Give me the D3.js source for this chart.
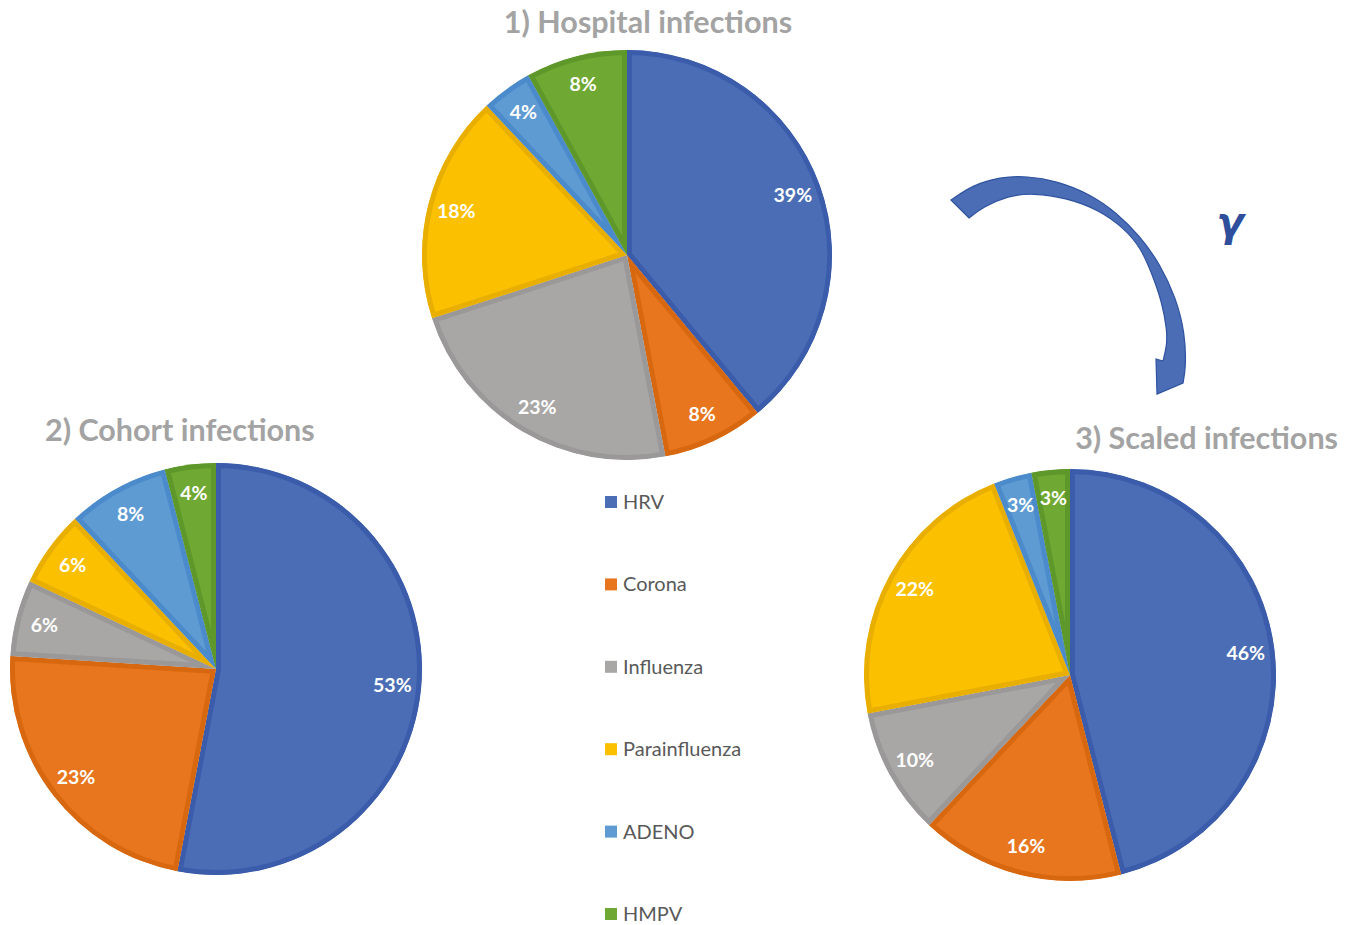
<!DOCTYPE html>
<html><head><meta charset="utf-8">
<script src="https://cdn.jsdelivr.net/npm/d3@7"></script>
<style>body{margin:0;background:#fff}</style></head>
<body>
<svg id="c" width="1354" height="925"></svg>
<script>
const categories = ["HRV","Corona","Influenza","Parainfluenza","ADENO","HMPV"];
const hospital = [39, 8, 23, 18, 4, 8];
const cohort   = [53, 23, 6, 6, 8, 4];
const scaled   = [46, 16, 10, 22, 3, 3];
const titles = ["1) Hospital infections", "2) Cohort infections", "3) Scaled infections"];
const fills   = ["#4a6db5", "#e8761e", "#a9a7a6", "#fbc000", "#5e9bd3", "#6fa832"];
const strokes = ["#3a5cab", "#d8680f", "#9a9898", "#e8ae00", "#4c8bcb", "#5e972a"];

const svg = d3.select("#c");
const pies = [
  {values: hospital, cx: 627, cy: 255, r: 205, title: titles[0], tx: 648, ty: 33, anchor: "middle"},
  {values: cohort,   cx: 216, cy: 669, r: 206, title: titles[1], tx: 45,  ty: 441, anchor: "start"},
  {values: scaled,   cx: 1070, cy: 675, r: 206, title: titles[2], tx: 1338, ty: 449, anchor: "end"}
];
const pieGen = d3.pie().sort(null).value(d => d);
const defs = svg.append("defs");

pies.forEach((p, pi) => {
  const arc = d3.arc().innerRadius(0).outerRadius(p.r);
  const labelArc = d3.arc().innerRadius(p.r * 0.86).outerRadius(p.r * 0.86);
  const arcs = pieGen(p.values);
  arcs.forEach((a, i) => {
    const id = `clip${pi}_${i}`;
    defs.append("clipPath").attr("id", id).append("path").attr("d", arc(a))
      .attr("transform", `translate(${p.cx},${p.cy})`);
    const sg = svg.append("g").attr("clip-path", `url(#${id})`)
      .append("g").attr("transform", `translate(${p.cx},${p.cy})`);
    sg.append("path").attr("d", arc(a)).attr("fill", fills[i])
      .attr("stroke", strokes[i]).attr("stroke-width", 10).attr("stroke-linejoin", "round");
  });
  const lg = svg.append("g").attr("transform", `translate(${p.cx},${p.cy})`);
  arcs.forEach((a, i) => {
    const [x, y] = labelArc.centroid(a);
    lg.append("text").attr("x", x).attr("y", y).attr("dy", "0.35em")
      .attr("text-anchor", "middle").attr("fill", "#fff")
      .attr("font-family", "Lato, 'Open Sans', sans-serif").attr("font-weight", "bold")
      .attr("font-size", 19.5).text(a.data + "%");
  });
  svg.append("text").attr("x", p.tx).attr("y", p.ty).attr("text-anchor", p.anchor)
    .attr("fill", "#a3a3a3").attr("font-family", "Lato, 'Open Sans', sans-serif")
    .attr("font-weight", "bold").attr("font-size", 30.5).text(p.title);
});

// legend
const legend = svg.append("g").attr("transform", "translate(605,502)");
categories.forEach((c, i) => {
  const row = legend.append("g").attr("transform", `translate(0,${i * 82.4})`);
  row.append("rect").attr("x", 0).attr("y", -6).attr("width", 12).attr("height", 12).attr("fill", fills[i]);
  row.append("text").attr("x", 18).attr("y", 0).attr("dy", "0.35em")
    .attr("fill", "#595959").attr("font-family", "Lato, 'Open Sans', sans-serif")
    .attr("font-size", 20).text(c);
});

// curved arrow
const outer = [[951,200],[973,185],[1000,177],[1027,176],[1057,181],[1090,194],[1117,213],[1140,236],[1160,264],[1176,298],[1185,333],[1186,367],[1183,383]];
const inner = [[1163,361],[1167,345],[1167,330],[1162,302],[1152,274],[1141,248],[1124,228],[1099,210],[1067,198],[1033,193],[1007,196],[983,207],[969,218]];
const line = d3.line().curve(d3.curveBasis);
const d = line(outer) + "L1157,394L1156,359" + line(inner).replace(/^M/, "L") + "Z";
svg.append("path").attr("d", d).attr("fill", "#4a6db5").attr("stroke", "#2f52a0").attr("stroke-width", 1.2).attr("stroke-linejoin", "miter");

svg.append("text").attr("x", 1230).attr("y", 236).attr("text-anchor", "middle")
  .attr("fill", "#2f4f9c").attr("font-family", "'DejaVu Sans', sans-serif")
  .attr("font-weight", "bold").attr("font-style", "italic").attr("font-size", 40).text("γ");
</script>
</body></html>
